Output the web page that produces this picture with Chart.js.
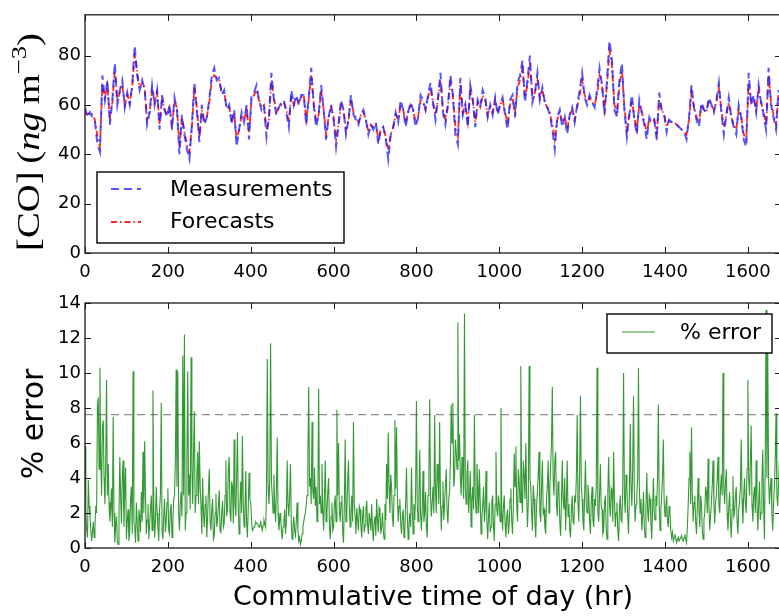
<!DOCTYPE html>
<html><head><meta charset="utf-8">
<script src="https://cdn.jsdelivr.net/npm/chart.js@4.4.0/dist/chart.umd.min.js"></script>
<style>
html,body{margin:0;padding:0;background:#fff;overflow:hidden;width:779px;height:616px;}
#wrap{position:relative;width:779px;height:616px;overflow:hidden;background:#fff;}
canvas{position:absolute;left:0;}
#c1{top:0;}
#c2{top:280px;}
</style></head><body><div id="wrap">
<canvas id="c1" width="800" height="280"></canvas>
<canvas id="c2" width="800" height="336"></canvas>
</div>
<script>
// ---------------- data ----------------
const X_MAX_HR = 1680;
const CO_STEP_HR = 6;      // hours between CO samples
const ERR_STEP_HR = 2;     // hours between error samples
const xTickLabels = [0, 200, 400, 600, 800, 1000, 1200, 1400, 1600];
const coTickLabels = [0, 20, 40, 60, 80];
const errTickLabels = [0, 2, 4, 6, 8, 10, 12, 14];
const CO_AXIS_MAX = 96.5;
const ERR_AXIS_MAX = 14;
const ERROR_THRESHOLD = 7.62;

const measurements = [
59,55,57,55,53,44,41,72,62,70,
52,62,77,60,66,70,59,65,60,68,
84,72,66,70,66,52,57,68,60,66,
50,64,58,55,60,50,63,58,40,56,
48,42,38,52,69,58,45,60,52,55,
62,72,75,70,71,64,66,58,60,52,
58,43,50,57,53,60,46,64,65,68,
62,58,60,47,55,73,62,56,59,61,
62,57,51,66,60,64,60,64,64,52,
63,75,60,51,56,68,58,46,55,60,
54,43,52,62,58,48,54,64,56,54,
52,56,58,54,48,52,50,53,44,50,
51,46,38,48,51,57,53,62,58,51,
57,61,58,51,55,64,62,58,64,69,
61,54,63,73,57,52,60,72,64,48,
44,71,56,60,51,68,62,51,62,59,
66,63,55,60,56,63,56,60,63,56,
50,62,64,55,69,72,78,61,70,80,
61,65,73,62,67,61,59,56,50,42,
55,58,51,55,48,56,59,53,60,66,
73,63,60,64,61,59,66,75,68,56,
70,86,78,58,55,70,77,58,47,56,
64,54,48,62,57,52,46,55,53,54,
46,65,58,56,49,54,53,53,52,51,
50,49,46,55,68,59,54,51,61,58,
57,63,60,57,62,69,57,48,56,63,
55,51,48,60,55,46,43,73,60,64,
57,68,61,56,50,75,60,55,50,66
];
const forecasts = [
57,56,57,56,54,47,43,68,63,68,
55,61,74,62,65,68,60,64,61,67,
81,73,67,69,67,54,57,66,61,65,
52,62,58,56,59,52,61,59,43,55,
49,44,41,51,67,59,47,58,53,55,
61,70,72,71,70,65,65,59,59,54,
57,46,50,56,54,58,49,62,64,66,
62,59,60,50,54,70,63,57,59,60,
61,58,53,64,60,63,61,63,64,54,
62,72,61,53,56,66,58,48,55,59,
55,46,52,60,58,50,54,62,57,55,
53,56,57,54,49,52,51,52,46,50,
51,47,42,48,51,56,54,60,58,53,
57,60,58,53,55,62,61,58,63,67,
61,56,62,70,58,54,60,69,64,51,
47,68,57,60,53,66,62,53,61,59,
64,62,56,59,57,62,57,60,62,57,
52,60,63,57,67,70,75,63,68,77,
63,65,70,63,66,61,59,57,52,46,
54,57,53,55,50,56,58,54,59,64,
70,64,61,63,61,60,64,72,68,58,
68,82,76,60,57,68,74,59,50,56,
62,55,50,60,57,53,49,54,53,54,
48,62,58,56,51,54,53,53,52,51,
50,49,48,54,65,59,55,53,60,58,
57,62,60,58,61,67,58,51,56,61,
55,52,50,58,55,48,46,69,61,63,
58,66,61,57,52,72,61,56,52,64
];
const pctError = [
5.8,2.2,1.0,0.6,3.9,2.4,1.8,1.0,0.4,0.9,1.5,0.6,1.2,2.4,2.0,8.1,8.6,4.5,10.3,5.0,
3.0,7.0,7.3,4.0,2.5,4.8,9.6,3.0,4.8,2.6,1.5,2.2,3.4,1.2,7.5,2.0,0.3,1.2,1.8,0.4,
0.2,1.8,5.2,3.0,1.4,4.0,5.0,1.2,3.2,4.6,0.5,1.6,2.2,0.4,1.0,2.8,3.5,0.8,10.1,1.5,
1.2,0.3,2.6,1.5,0.4,2.2,1.8,0.9,3.2,1.5,5.5,2.0,6.1,3.0,0.8,1.6,2.5,0.5,1.4,2.2,
3.0,1.0,9.0,2.4,0.6,1.5,3.5,2.0,1.2,0.4,2.2,3.0,8.3,1.0,0.5,1.8,2.8,0.9,1.5,2.6,
3.4,1.0,0.8,2.2,2.5,0.6,1.3,2.8,3.0,4.8,10.2,3.5,10.1,2.0,1.0,2.5,3.2,1.8,11.0,3.0,
12.2,1.0,2.0,5.0,10.1,3.0,4.2,2.2,10.9,4.5,2.5,5.6,7.8,2.0,3.0,4.2,5.5,2.5,6.1,3.5,
2.4,0.8,4.0,2.0,1.2,2.5,3.0,0.6,1.8,3.4,4.5,1.5,1.0,2.2,2.8,0.5,0.7,2.0,3.1,1.2,
1.6,2.5,3.3,1.0,0.9,2.0,2.7,1.2,1.4,3.0,5.0,1.8,2.2,4.5,5.2,2.0,1.5,3.8,3.5,1.4,
6.2,2.5,1.8,4.0,6.6,2.2,0.8,2.5,3.8,2.0,6.4,2.6,1.2,2.0,4.4,1.5,0.6,2.2,4.3,2.8,
2.6,1.6,1.0,1.1,1.2,1.3,1.5,1.4,1.4,1.3,1.2,1.3,1.5,1.2,1.0,1.3,1.6,1.4,1.2,3.0,
10.8,3.5,2.5,4.0,11.7,3.8,3.0,2.0,4.2,2.5,1.5,3.2,6.3,2.0,1.0,1.6,2.0,1.0,0.5,1.2,
1.5,2.2,0.8,1.5,5.0,2.5,1.8,3.0,4.8,1.4,0.5,1.2,1.8,1.0,0.7,1.5,2.6,1.0,0.4,0.6,
0.2,0.4,0.8,1.2,1.5,1.8,2.0,2.5,3.0,5.0,9.2,3.5,4.0,2.5,7.2,3.2,2.8,4.6,2.4,3.5,
1.5,2.8,9.1,2.5,3.0,2.0,4.8,2.2,1.0,3.0,5.0,1.5,2.0,3.2,4.0,1.2,0.5,1.8,2.6,1.0,
1.2,2.5,3.0,1.5,7.9,3.0,6.0,2.2,1.5,2.6,3.0,1.0,0.3,2.5,6.2,1.5,2.0,3.8,5.0,2.4,
1.2,2.0,3.0,1.5,7.2,2.5,1.8,0.8,2.3,1.6,1.0,2.4,2.2,1.2,0.6,1.8,2.4,0.9,1.3,2.2,
2.7,1.4,0.8,2.0,1.6,1.0,2.5,1.2,0.4,1.5,1.8,0.7,2.8,1.6,0.9,2.3,2.1,0.8,1.2,2.0,
1.0,0.5,2.5,1.6,4.8,2.8,6.6,3.5,2.0,4.2,3.5,1.8,1.2,3.0,7.3,3.4,6.9,3.0,1.5,2.4,
2.8,1.4,0.8,1.8,2.2,0.6,1.0,2.6,4.6,1.8,0.5,1.4,2.0,1.2,4.6,2.2,0.8,2.5,1.6,3.2,
8.4,2.5,1.5,3.0,5.6,2.0,1.0,2.2,4.4,1.5,2.0,3.2,1.2,0.6,3.0,4.2,8.5,3.0,1.8,2.6,
3.5,2.0,7.6,3.2,2.0,4.8,4.2,2.5,7.2,2.8,1.0,2.4,3.8,1.6,2.5,3.6,4.5,2.0,1.4,2.8,
3.2,5.0,8.2,6.0,8.3,3.5,4.0,6.2,5.5,4.5,12.9,5.0,6.5,4.0,3.0,5.2,4.2,2.8,13.4,3.5,
2.5,4.2,5.0,2.0,3.0,4.4,1.2,2.8,3.5,2.2,7.6,3.0,2.0,4.8,3.6,2.0,4.5,2.6,0.8,1.8,
2.4,3.5,1.5,2.2,4.4,1.6,0.5,1.8,2.6,0.9,1.2,2.6,3.0,1.2,0.4,2.5,5.5,2.2,1.8,3.0,
2.5,1.5,8.0,2.0,1.0,2.4,3.0,1.4,0.6,1.8,2.2,0.8,1.4,2.8,3.4,1.5,0.8,2.5,5.4,3.5,
5.8,2.5,1.5,4.5,3.8,2.6,10.4,3.0,2.0,5.0,4.2,2.8,6.0,3.0,1.2,2.5,10.4,4.0,3.5,2.0,
1.0,3.6,2.8,1.5,0.6,2.4,3.2,4.2,5.5,2.0,1.5,3.5,5.0,2.0,2.2,1.2,0.8,2.8,3.5,5.0,
2.0,3.5,4.8,6.0,9.2,4.0,3.0,5.0,5.5,2.5,1.8,3.8,3.4,1.5,0.7,2.6,5.0,2.8,2.2,4.0,
1.0,2.6,5.0,1.8,2.5,1.0,0.6,2.2,3.0,1.5,1.4,3.0,2.6,4.0,7.6,2.5,1.5,4.5,8.7,3.5,
2.8,1.5,1.0,3.0,5.0,2.4,2.0,3.6,3.0,1.5,0.8,2.6,3.5,1.6,1.2,2.8,2.4,3.5,10.3,2.0,
1.5,3.0,4.8,2.4,2.2,0.8,1.0,2.6,3.0,1.2,0.5,3.2,5.2,2.5,1.8,3.4,3.2,1.5,5.5,2.8,
1.2,2.0,2.6,1.0,0.4,2.2,3.0,1.6,1.5,3.5,10.0,3.0,2.0,4.2,3.5,1.8,0.8,3.0,7.1,3.5,
2.4,4.5,8.7,3.0,1.5,2.5,3.0,4.0,10.3,3.5,2.0,2.8,1.0,1.8,3.2,1.2,0.6,2.4,4.3,2.2,
1.5,3.0,2.8,1.4,0.5,2.2,4.0,2.0,1.6,3.0,2.4,4.0,8.2,2.5,1.0,2.2,3.0,4.0,6.2,2.6,
1.8,2.4,3.0,1.5,1.2,2.4,2.0,1.0,0.6,0.9,0.4,0.6,0.8,0.5,0.3,0.5,0.6,0.4,0.4,0.6,
0.7,0.5,0.4,0.6,0.8,0.5,0.3,1.2,2.5,4.0,5.5,2.5,6.9,3.0,1.5,2.6,3.0,1.5,0.8,2.4,
4.0,2.2,1.2,3.0,2.5,1.0,0.5,1.6,2.0,3.5,3.2,2.0,5.1,2.4,1.0,1.8,2.6,3.6,5.0,2.5,
1.4,2.6,3.0,4.0,5.2,2.5,2.0,3.4,4.2,3.0,10.0,3.5,2.5,3.8,4.5,2.0,1.0,2.4,3.2,1.5,
0.6,2.2,4.1,1.8,2.0,3.0,3.5,1.5,0.8,2.2,2.6,3.5,6.2,2.8,1.4,3.0,4.0,2.5,2.0,4.5,
9.6,4.0,3.0,4.8,7.0,2.5,1.5,3.0,3.5,2.0,5.0,2.6,1.0,2.5,3.8,1.6,2.0,4.0,5.6,2.5,
0.5,5.0,13.6,4.0,11.2,4.0,2.5,3.4,4.0,2.0,1.0,2.5,3.5,5.0,7.7,3.0,2.4,3.5,5.0,2.8
];

// ---------------- helpers ----------------
const toPoints = (arr, step) => arr.map((v, i) => ({x: i * step, y: v}));
const FONT = "'DejaVu Sans', sans-serif";
const SERIF = "'Liberation Serif', 'DejaVu Serif', serif";

const framePlugin = {
  id: 'frame',
  afterDraw(chart, args, o) {
    const {ctx, chartArea: a} = chart;
    const xs = chart.scales.x, ys = chart.scales.y;
    ctx.save();
    ctx.strokeStyle = '#1a1a1a';
    ctx.lineWidth = 1;
    ctx.setLineDash([]);
    ctx.beginPath();
    xs.ticks.forEach(t => {
      const p = Math.round(xs.getPixelForValue(t.value)) + 0.5;
      ctx.moveTo(p, a.bottom); ctx.lineTo(p, a.bottom - 6);
      ctx.moveTo(p, a.top); ctx.lineTo(p, a.top + 6);
    });
    ys.ticks.forEach(t => {
      const p = Math.round(ys.getPixelForValue(t.value)) + 0.5;
      ctx.moveTo(a.left, p); ctx.lineTo(a.left + 6, p);
      ctx.moveTo(a.right, p); ctx.lineTo(a.right - 6, p);
    });
    ctx.stroke();
    ctx.lineWidth = 1.3;
    ctx.strokeRect(a.left, a.top, a.right - a.left, a.bottom - a.top);

    // legend
    const L = o.legend;
    if (L) {
      ctx.fillStyle = '#fff';
      ctx.fillRect(L.x, L.y, L.w, L.h);
      ctx.strokeStyle = '#000';
      ctx.lineWidth = 1.4;
      ctx.strokeRect(L.x, L.y, L.w, L.h);
      L.items.forEach(it => {
        const ds = chart.data.datasets[it.ds];
        ctx.strokeStyle = ds.borderColor;
        ctx.lineWidth = ds.borderWidth;
        ctx.setLineDash(ds.borderDash || []);
        ctx.beginPath();
        ctx.moveTo(it.lx0, it.ly); ctx.lineTo(it.lx1, it.ly);
        ctx.stroke();
        ctx.setLineDash([]);
        ctx.fillStyle = '#000';
        ctx.font = L.font;
        ctx.textBaseline = 'middle';
        ctx.textAlign = 'left';
        ctx.fillText(ds.label, it.tx, it.ty);
      });
    }
    // titles
    (o.titles || []).forEach(T => {
      ctx.save();
      ctx.translate(T.cx, T.cy);
      if (T.rotate) ctx.rotate(-Math.PI / 2);
      ctx.fillStyle = '#000';
      ctx.textBaseline = 'alphabetic';
      ctx.textAlign = 'left';
      let total = 0;
      T.parts.forEach(p => { ctx.font = p.font; p.w = ctx.measureText(p.text).width; total += p.w; });
      if (T.targetLen) ctx.scale(T.targetLen / total, 1);
      let xx = -total / 2;
      T.parts.forEach(p => { ctx.font = p.font; ctx.fillText(p.text, xx, p.dy || 0); xx += p.w; });
      ctx.restore();
    });
    ctx.restore();
  }
};

function xScale(height, pad) {
  return {
    type: 'linear', min: 0, max: X_MAX_HR,
    grid: {display: false, drawTicks: false},
    border: {display: false},
    ticks: {color: '#000', font: {family: FONT, size: 18}, padding: pad, maxRotation: 0,
            callback: v => String(v)},
    afterBuildTicks: s => { s.ticks = xTickLabels.map(v => ({value: v})); },
    afterFit: s => { s.height = height; }
  };
}
function yScale(max, labels) {
  return {
    type: 'linear', min: 0, max: max,
    grid: {display: false, drawTicks: false},
    border: {display: false},
    ticks: {color: '#000', font: {family: FONT, size: 18}, padding: 4, callback: v => String(v)},
    afterBuildTicks: s => { s.ticks = labels.map(v => ({value: v})); },
    afterFit: s => { s.width = 85; }
  };
}

Chart.defaults.font.family = FONT;

// ---------------- top chart ----------------
new Chart(document.getElementById('c1'), {
  type: 'line',
  data: {
    datasets: [
      {label: 'Measurements', data: toPoints(measurements, CO_STEP_HR),
       borderColor: 'rgba(30,30,255,0.75)', borderWidth: 2, borderDash: [8, 5],
       pointRadius: 0, tension: 0, fill: false},
      {label: 'Forecasts', data: toPoints(forecasts, CO_STEP_HR),
       borderColor: 'rgba(255,0,0,0.85)', borderWidth: 1.8, borderDash: [6, 3, 1.5, 3],
       pointRadius: 0, tension: 0, fill: false}
    ]
  },
  options: {
    responsive: false, animation: false, devicePixelRatio: 1,
    layout: {padding: {top: 8, right: 19, left: 0, bottom: 0}},
    scales: {x: xScale(27, 9), y: yScale(CO_AXIS_MAX, coTickLabels)},
    plugins: {
      legend: {display: false}, tooltip: {enabled: false},
      frame: {
        legend: {x: 97, y: 172, w: 247, h: 71, font: '22px ' + FONT,
          items: [
            {ds: 0, lx0: 111, lx1: 141, ly: 189, tx: 170, ty: 190},
            {ds: 1, lx0: 111, lx1: 141, ly: 222, tx: 170, ty: 222}
          ]},
        titles: [{rotate: true, cx: 39, cy: 142, targetLen: 218, parts: [
          {text: '[CO]\u2009(', font: '32px ' + SERIF},
          {text: 'ng', font: 'italic 32px ' + SERIF},
          {text: '\u2009m', font: '32px ' + SERIF},
          {text: '\u22123', font: '22px ' + SERIF, dy: -13},
          {text: ')', font: '32px ' + SERIF}
        ]}]
      }
    }
  },
  plugins: [framePlugin]
});

// ---------------- bottom chart ----------------
new Chart(document.getElementById('c2'), {
  type: 'line',
  data: {
    datasets: [
      {label: '% error', data: toPoints(pctError, ERR_STEP_HR),
       borderColor: 'rgba(0,128,0,0.8)', borderWidth: 1.1,
       pointRadius: 0, tension: 0, fill: false},
      {label: 'threshold', data: [{x: 0, y: ERROR_THRESHOLD}, {x: X_MAX_HR, y: ERROR_THRESHOLD}],
       borderColor: 'rgba(128,128,128,0.9)', borderWidth: 1.2, borderDash: [8, 5],
       pointRadius: 0, tension: 0, fill: false}
    ]
  },
  options: {
    responsive: false, animation: false, devicePixelRatio: 1,
    layout: {padding: {top: 23, right: 19, left: 0, bottom: 0}},
    scales: {x: xScale(68, 9), y: yScale(ERR_AXIS_MAX, errTickLabels)},
    plugins: {
      legend: {display: false}, tooltip: {enabled: false},
      frame: {
        legend: {x: 607, y: 34, w: 165, h: 39, font: '22px ' + FONT,
          items: [{ds: 0, lx0: 622, lx1: 655, ly: 52, tx: 680, ty: 53}]},
        titles: [
          {rotate: true, cx: 43, cy: 144, parts: [{text: '% error', font: '30px ' + FONT}]},
          {rotate: false, cx: 433, cy: 325, parts: [{text: 'Commulative time of day (hr)', font: '27px ' + FONT}]}
        ]
      }
    }
  },
  plugins: [framePlugin]
});
</script>
</body></html>
